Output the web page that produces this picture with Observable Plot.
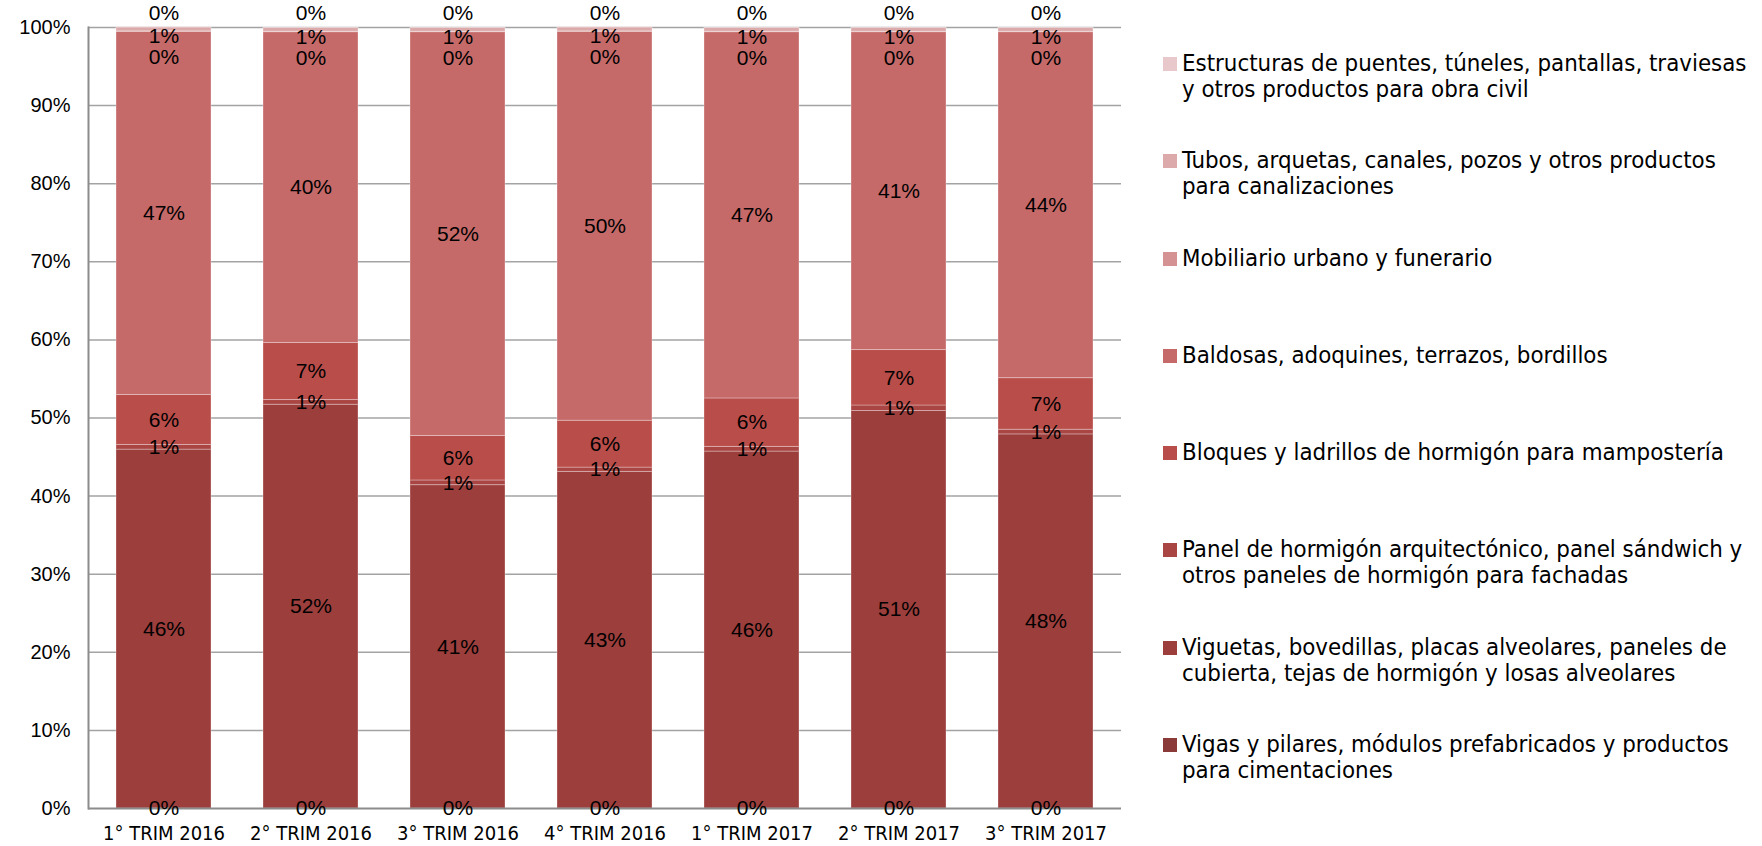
<!DOCTYPE html>
<html>
<head>
<meta charset="utf-8">
<script src="https://cdn.jsdelivr.net/npm/d3@7"></script>
<script src="https://cdn.jsdelivr.net/npm/@observablehq/plot@0.6"></script>
<style>
  html, body { margin: 0; padding: 0; background: #fff; }
  #wrap { position: relative; width: 1762px; height: 846px; overflow: hidden; }
  #chart { position: absolute; left: 0; top: 0; }
  #legend { position: absolute; left: 1163px; top: 50px; font-family: "DejaVu Sans Condensed", "DejaVu Sans", sans-serif; font-size: 23.8px; color: #000; }
  .item { display: flex; align-items: flex-start; height: 97.3px; }
  .sw { width: 14px; height: 14px; margin-top: 7px; margin-right: 5px; flex: none; }
  .lab { line-height: 26px; white-space: pre; }
</style>
</head>
<body>
<div id="wrap">
  <div id="chart"></div>
  <div id="legend"></div>
</div>
<script>
// Categories (x axis)
const categories = ["1° TRIM 2016", "2° TRIM 2016", "3° TRIM 2016", "4° TRIM 2016", "1° TRIM 2017", "2° TRIM 2017", "3° TRIM 2017"];

// Series, bottom of the stack to top
const series = [
  "Vigas y pilares, módulos prefabricados y productos\npara cimentaciones",
  "Viguetas, bovedillas, placas alveolares, paneles de\ncubierta, tejas de hormigón y losas alveolares",
  "Panel de hormigón arquitectónico, panel sándwich y\notros paneles de hormigón para fachadas",
  "Bloques y ladrillos de hormigón para mampostería",
  "Baldosas, adoquines, terrazos, bordillos",
  "Mobiliario urbano y funerario",
  "Tubos, arquetas, canales, pozos y otros productos\npara canalizaciones",
  "Estructuras de puentes, túneles, pantallas, traviesas\ny otros productos para obra civil"
];
const colors = ["#8b3a3a", "#9b3e3c", "#a94542", "#b94d4a", "#c56a69", "#d49392", "#dcaaab", "#e8c8ca"];

// Values (% of total), one array per series, in category order
const vigas       = [0, 0, 0, 0, 0, 0, 0];
const viguetas    = [45.95, 51.7, 41.4, 43.1, 45.7, 50.9, 47.9];
const panel       = [0.6, 0.6, 0.6, 0.55, 0.6, 0.7, 0.6];
const bloques     = [6.4, 7.3, 5.7, 6.0, 6.2, 7.1, 6.6];
const baldosas    = [46.5, 39.8, 51.7, 49.8, 46.9, 40.7, 44.3];
const mobiliario  = [0.05, 0.05, 0.05, 0.05, 0.05, 0.05, 0.05];
const tubos       = [0.5, 0.5, 0.5, 0.5, 0.5, 0.5, 0.5];
const estructuras = [0.05, 0.05, 0.05, 0.05, 0.05, 0.05, 0.05];

const yTicks = [0, 10, 20, 30, 40, 50, 60, 70, 80, 90, 100];

const values = [vigas, viguetas, panel, bloques, baldosas, mobiliario, tubos, estructuras];

// Build stacked table
const rows = [];
categories.forEach((c, i) => {
  let acc = 0;
  series.forEach((s, k) => {
    const v = values[k][i];
    rows.push({cat: c, series: s, k, value: v, y1: acc, y2: acc + v, mid: acc + v / 2, label: Math.round(v) + "%"});
    acc += v;
  });
});

const labelFont = "'Liberation Sans', Arial, sans-serif";
const top3 = [series[5], series[6], series[7]];

const plot = Plot.plot({
  width: 1140,
  height: 846,
  marginLeft: 88,
  marginRight: 19,
  marginTop: 27,
  marginBottom: 38,
  style: {background: "transparent", overflow: "visible"},
  x: {domain: categories, paddingInner: 0.356, paddingOuter: 0.178, label: null},
  y: {domain: [0, 100], label: null},
  color: {domain: series, range: colors},
  marks: [
    Plot.ruleY(yTicks.filter(d => d > 0), {stroke: "#a3a3a3", strokeWidth: 1.5}),
    Plot.barY(rows, {x: "cat", y1: "y1", y2: "y2", fill: "series", stroke: "#ffffff", strokeOpacity: 0.3, strokeWidth: 1}),
    Plot.ruleY([0], {stroke: "#8c8c8c", strokeWidth: 2}),
    Plot.frame({anchor: "left", stroke: "#8c8c8c", strokeWidth: 2}),
    Plot.axisY({ticks: yTicks, tickFormat: d => d + "%", tickSize: 0, tickPadding: 18, fontSize: 20, fontFamily: labelFont, fill: "#000", label: null}),
    Plot.axisX({tickSize: 0, tickPadding: 17, fontSize: 20, fontFamily: "'DejaVu Sans Condensed', 'DejaVu Sans', sans-serif", fill: "#000", label: null}),
    Plot.text(rows.filter(d => !top3.includes(d.series)), {x: "cat", y: "mid", text: "label", fontSize: 21, fontFamily: labelFont, fill: "#000"}),
    Plot.text(rows.filter(d => d.series === series[5]), {x: "cat", y: "mid", text: "label", dy: 26, fontSize: 21, fontFamily: labelFont, fill: "#000"}),
    Plot.text(rows.filter(d => d.series === series[6]), {x: "cat", y: "mid", text: "label", dy: 7, fontSize: 21, fontFamily: labelFont, fill: "#000"}),
    Plot.text(rows.filter(d => d.series === series[7]), {x: "cat", y: "mid", text: "label", dy: -14, fontSize: 21, fontFamily: labelFont, fill: "#000"})
  ]
});
document.getElementById("chart").appendChild(plot);

// Legend (top entry = top of stack)
const legend = document.getElementById("legend");
series.slice().reverse().forEach((s, j) => {
  const k = series.length - 1 - j;
  const item = document.createElement("div");
  item.className = "item";
  const sw = document.createElement("div");
  sw.className = "sw";
  sw.style.background = colors[k];
  const lab = document.createElement("div");
  lab.className = "lab";
  lab.textContent = s;
  item.appendChild(sw);
  item.appendChild(lab);
  legend.appendChild(item);
});
</script>
</body>
</html>
